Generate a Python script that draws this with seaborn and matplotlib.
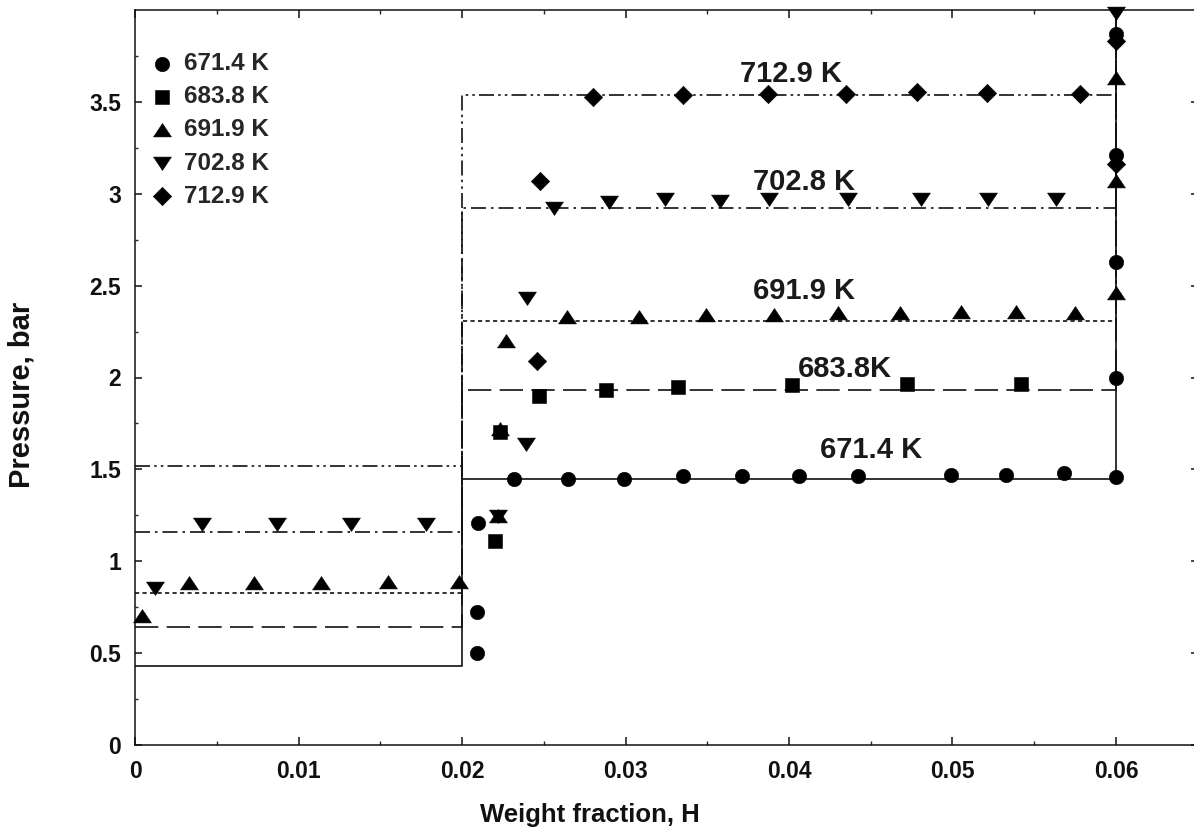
import numpy as np
import matplotlib
matplotlib.use("Agg")
import matplotlib.pyplot as plt
import seaborn as sns
from matplotlib.ticker import MultipleLocator, FuncFormatter, FixedLocator

# ---------------- data ----------------
series_names = ["671.4 K", "683.8 K", "691.9 K", "702.8 K", "712.9 K"]

h_671 = [0.0209, 0.0209, 0.0210, 0.0232, 0.0265, 0.0299, 0.0335, 0.0371, 0.0406,
         0.0442, 0.0499, 0.0533, 0.0568, 0.0600, 0.0600, 0.0600, 0.0600, 0.0600]
p_671 = [0.50, 0.725, 1.21, 1.45, 1.45, 1.45, 1.465, 1.465, 1.465,
         1.465, 1.47, 1.47, 1.48, 1.46, 2.00, 2.63, 3.21, 3.87]

h_684 = [0.0220, 0.0223, 0.0247, 0.0288, 0.0332, 0.0402, 0.0472, 0.0542]
p_684 = [1.11, 1.705, 1.90, 1.93, 1.95, 1.96, 1.965, 1.965]

h_692 = [0.0004, 0.0033, 0.0073, 0.0114, 0.0155, 0.0198, 0.0222, 0.0223, 0.0227,
         0.0264, 0.0308, 0.0349, 0.0391, 0.0430, 0.0468, 0.0505, 0.0539, 0.0575,
         0.0600, 0.0600, 0.0600]
p_692 = [0.70, 0.88, 0.88, 0.88, 0.885, 0.885, 1.245, 1.72, 2.20,
         2.33, 2.33, 2.34, 2.34, 2.35, 2.35, 2.355, 2.355, 2.35,
         2.46, 3.07, 3.63]

h_703 = [0.0012, 0.0041, 0.0087, 0.0132, 0.0178, 0.0222, 0.0239, 0.0240, 0.0256,
         0.0290, 0.0324, 0.0358, 0.0388, 0.0436, 0.0481, 0.0522, 0.0563, 0.0600]
p_703 = [0.857, 1.205, 1.205, 1.205, 1.205, 1.245, 1.636, 2.43, 2.92,
         2.955, 2.97, 2.96, 2.97, 2.97, 2.97, 2.97, 2.97, 3.985]

h_713 = [0.0246, 0.0248, 0.0280, 0.0335, 0.0387, 0.0435, 0.0478, 0.0521, 0.0578,
         0.0600, 0.0600]
p_713 = [2.09, 3.07, 3.527, 3.535, 3.545, 3.545, 3.555, 3.55, 3.544, 3.16, 3.83]

# two-phase region boundaries (weight fraction) and plateau pressures
h_alpha = 0.02
h_beta = 0.06
plateau_low = [0.43, 0.644, 0.829, 1.161, 1.518]
plateau_high = [1.45, 1.93, 2.31, 2.925, 3.54]
plateau_names = ["671.4 K", "683.8K", "691.9 K", "702.8 K", "712.9 K"]

# ---------------- styling ----------------
sns.set_theme(style="ticks", rc={
    "xtick.direction": "in", "ytick.direction": "in",
    "xtick.top": True, "ytick.right": True,
})
plt.rcParams["font.family"] = ["Liberation Sans", "DejaVu Sans"]
plt.rcParams["font.weight"] = "bold"

ink = "#111111"
# flattened triangles (wider than tall)
tri_up = [(-1.0, -0.72), (1.0, -0.72), (0.0, 0.78), (-1.0, -0.72)]
tri_down = [(-1.0, 0.72), (1.0, 0.72), (0.0, -0.78), (-1.0, 0.72)]
markers = ["o", "s", tri_up, tri_down, "D"]
marker_area = [108, 92, 165, 165, 88]
line_styles = ["-", (0, (14, 5)), (0, (2.5, 2)), (0, (9, 3, 1.5, 3)),
               (0, (9, 2.5, 1.5, 2.5, 1.5, 2.5))]
label_pos = [(0.0450, 1.603), (0.0434, 2.045), (0.0409, 2.47),
             (0.0409, 3.064), (0.0401, 3.653)]

y_top = 4.0
x_right = 0.065

fig = plt.figure(figsize=(11.94, 8.34), dpi=100)
ax = fig.add_axes([135 / 1194, 89 / 834, x_right * 16350 / 1194, 735 / 834])

# isotherm outlines: low plateau, jump at h_alpha, high plateau, rise at h_beta
for lo, hi, ls in zip(plateau_low, plateau_high, line_styles):
    xs = [0.0, h_alpha, h_alpha, h_beta, h_beta]
    ys = [lo, lo, hi, hi, y_top]
    sns.lineplot(x=xs, y=ys, sort=False, estimator=None, ax=ax, color=ink,
                 linewidth=1.2, linestyle=ls, legend=False, zorder=2)

all_h = [h_671, h_684, h_692, h_703, h_713]
all_p = [p_671, p_684, p_692, p_703, p_713]
for h, p, name, m, s in zip(all_h, all_p, series_names, markers, marker_area):
    sns.scatterplot(x=h, y=p, marker=m, s=s, color="black", edgecolor="black",
                    linewidth=0.4, label=name, ax=ax, clip_on=False, zorder=3,
                    legend=False)

for name, (lx, ly) in zip(plateau_names, label_pos):
    ax.text(lx, ly, name, ha="center", va="center", fontsize=21,
            fontweight="bold", color="#1a1a1a", zorder=4)

ax.set_xlim(0, x_right)
ax.set_ylim(0, y_top)
ax.xaxis.set_major_locator(MultipleLocator(0.01))
ax.xaxis.set_minor_locator(MultipleLocator(0.005))
ax.yaxis.set_major_locator(FixedLocator(np.arange(0, 3.51, 0.5)))
ax.yaxis.set_minor_locator(FixedLocator(np.arange(0.25, 3.8, 0.5)))
ax.xaxis.set_major_formatter(FuncFormatter(lambda v, _: f"{v:g}"))
ax.yaxis.set_major_formatter(FuncFormatter(lambda v, _: f"{v:g}"))
ax.tick_params(axis="x", which="major", length=6, width=1.1, pad=11,
               labelsize=16.5, colors=ink)
ax.tick_params(axis="x", which="minor", length=3, width=1.0)
ax.tick_params(axis="y", which="major", length=5, width=1.1, pad=10,
               labelsize=16.5, colors=ink)
ax.tick_params(axis="y", which="minor", length=2.5, width=1.0)
for lab in ax.get_xticklabels() + ax.get_yticklabels():
    lab.set_fontweight("bold")
for sp in ax.spines.values():
    sp.set_color(ink)
    sp.set_linewidth(1.1)
ax.spines["right"].set_visible(False)

fig.text(22 / 1194, 1 - 395 / 834, "Pressure, bar", rotation=90, ha="center",
         va="center", fontsize=21, fontweight="bold", color=ink)
fig.text(590 / 1194, 1 - 815 / 834, "Weight fraction, H", ha="center",
         va="center", fontsize=18.5, fontweight="bold", color=ink)

ax.legend(loc="upper left", bbox_to_anchor=(0.0165, 0.943), frameon=False,
          borderpad=0, borderaxespad=0, handlelength=0.8, handletextpad=0.5,
          labelspacing=0.42, prop={"size": 17.5, "weight": "bold"})

fig.savefig("out.png", dpi=100)
